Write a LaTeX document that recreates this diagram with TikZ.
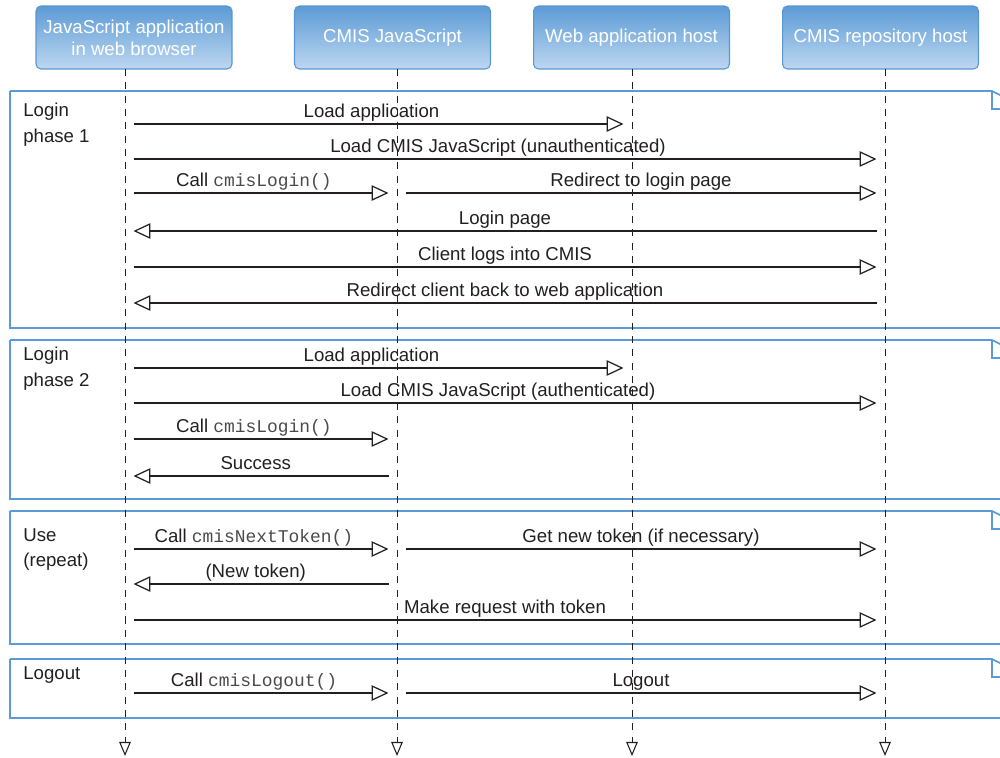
\documentclass[tikz,border=0pt]{standalone}
\usepackage{fontspec}
\setmainfont{Liberation Sans}
\setmonofont{Liberation Mono}
\usetikzlibrary{arrows.meta,calc}
\definecolor{hdA}{HTML}{5C9BD6}
\definecolor{hdB}{HTML}{6AA5DC}
\definecolor{hdC}{HTML}{BDD7F0}
\definecolor{hdborder}{HTML}{5A96CF}
\definecolor{framecol}{HTML}{5B9BD5}
\definecolor{ink}{HTML}{231F20}
\definecolor{codeink}{HTML}{4A4A4A}
\newcommand\code[1]{{\fontsize{10.2}{12}\selectfont\color{codeink}\texttt{#1}}}
\newcommand\msgr[5][0pt]{\draw[msg] ($(#2 |- 0,#4)+(8.5,0)$) -- node[lbl,xshift=#1]{#5} ($(#3 |- 0,#4)+(-8.5,0)$);}
\newcommand\msgl[5][0pt]{\draw[msg] ($(#2 |- 0,#4)+(-8.5,0)$) -- node[lbl,xshift=#1]{#5} ($(#3 |- 0,#4)+(8.5,0)$);}
\newcommand\fframe[2]{%
  \draw[framebox] (10,#1) -- (10,#2) -- (1002,#2);
  \draw[framebox] (10,#1) -- (992,#1) -- (1002,#1+5);
  \draw[framebox] (992,#1) -- (992,#1+18) -- (1002,#1+18);}
\begin{document}
\begin{tikzpicture}[x=0.02cm,y=-0.02cm,
  font=\fontsize{10.6}{12.7}\selectfont,
  hdr/.style={draw=hdborder, line width=0.6pt, rounded corners=2.8pt,
    top color=hdA, middle color=hdB, bottom color=hdC, text=white,
    minimum width=3.92cm, minimum height=1.26cm, align=center, inner sep=0pt},
  life/.style={draw=ink, line width=0.5pt, dash pattern=on 4pt off 3.6pt,
    -{Triangle[open,length=8pt,width=6.6pt,line width=0.6pt]}},
  msg/.style={draw=ink, line width=1.1pt,
    -{Triangle[open,length=9.6pt,width=8.8pt,line width=0.7pt]}},
  lbl/.style={midway, anchor=base, yshift=3.7pt, text=ink, inner sep=0pt},
  framebox/.style={draw=framecol, line width=0.9pt},
  flabel/.style={anchor=base west, text=ink, inner sep=0pt}]
\useasboundingbox (0,0) rectangle (1000,757);

% frames
\fframe{91}{328}
\fframe{340}{499}
\fframe{511}{644}
\fframe{659}{718}

\node[flabel] (f1a) at (23,116) {Login};
\node[flabel] (f1b) at (23,142) {phase 1};
\node[flabel] (f2a) at (23,360) {Login};
\node[flabel] (f2b) at (23,386) {phase 2};
\node[flabel] (f3a) at (23,541) {Use};
\node[flabel] (f3b) at (23,566) {(repeat)};
\node[flabel] (f4a) at (23,679) {Logout};

% headers
\node[hdr] (h1) at (134,37.5) {JavaScript application\\[-0.3pt]in web browser};
\node[hdr] (h2) at (392.5,37.5) {CMIS JavaScript};
\node[hdr] (h3) at (631.5,37.5) {Web application host};
\node[hdr] (h4) at (880.5,37.5) {CMIS repository host};

% lifelines
\coordinate (l1) at (125,69);
\coordinate (l2) at (397,69);
\coordinate (l3) at (632,69);
\coordinate (l4) at (885,69);
\coordinate (e1) at (125,756);
\coordinate (e2) at (397,756);
\coordinate (e3) at (632,756);
\coordinate (e4) at (885,756);
\draw[life] (l1) -- (e1);
\draw[life] (l2) -- (e2);
\draw[life] (l3) -- (e3);
\draw[life] (l4) -- (e4);

% phase 1
\msgr[-4pt]{l1}{l3}{124}{Load application}
\msgr[-4pt]{l1}{l4}{159}{Load CMIS JavaScript (unauthenticated)}
\msgr[-4pt]{l1}{l2}{193}{Call \code{cmisLogin()}}
\msgr{l2}{l4}{193}{Redirect to login page}
\msgl{l4}{l1}{231}{Login page}
\msgr{l1}{l4}{267}{Client logs into CMIS}
\msgl{l4}{l1}{303}{Redirect client back to web application}

% phase 2
\msgr[-4pt]{l1}{l3}{368}{Load application}
\msgr[-4pt]{l1}{l4}{403}{Load CMIS JavaScript (authenticated)}
\msgr[-4pt]{l1}{l2}{439}{Call \code{cmisLogin()}}
\msgl[-3pt]{l2}{l1}{476}{Success}

% use
\msgr[-4pt]{l1}{l2}{549}{Call \code{cmisNextToken()}}
\msgr{l2}{l4}{549}{Get new token (if necessary)}
\msgl[-3pt]{l2}{l1}{584}{(New token)}
\msgr{l1}{l4}{620}{Make request with token}

% logout
\msgr[-4pt]{l1}{l2}{693}{Call \code{cmisLogout()}}
\msgr{l2}{l4}{693}{Logout}
\end{tikzpicture}
\end{document}
